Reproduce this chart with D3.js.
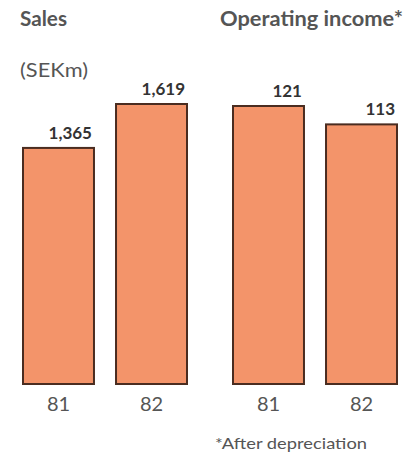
<!DOCTYPE html>
<html>
<head>
<meta charset="utf-8">
<script src="https://cdn.jsdelivr.net/npm/d3@7"></script>
<style>
  html, body { margin: 0; padding: 0; background: #ffffff; }
  svg { display: block; }
  text { font-family: Lato, "Open Sans", sans-serif; }
</style>
</head>
<body>
<svg id="chart" width="417" height="454"></svg>
<script>
// Years shown under each pair of bars
const years = ["81", "82"];
// Sales, SEKm
const sales = [1365, 1619];
// Operating income after depreciation, SEKm
const operatingIncome = [121, 113];

const svg = d3.select("#chart");
const baseY = 384;
const barFill = "#f3946a";
const barStroke = "#4a2c20";
const textGrey = "#555555";
const valueColor = "#333333";

function panel(values, xRange, yDomainMax, yTop) {
  const x = d3.scaleBand().domain(years).range(xRange).paddingInner(0.237).paddingOuter(0);
  const y = d3.scaleLinear().domain([0, yDomainMax]).range([baseY, yTop]);
  const g = svg.append("g");
  const data = years.map((yr, i) => ({ year: yr, value: values[i] }));

  g.selectAll("rect").data(data).join("rect")
    .attr("x", d => x(d.year))
    .attr("y", d => y(d.value))
    .attr("width", x.bandwidth())
    .attr("height", d => baseY - y(d.value))
    .attr("fill", barFill)
    .attr("stroke", barStroke)
    .attr("stroke-width", 2);

  g.selectAll("text.value").data(data).join("text")
    .attr("class", "value")
    .attr("x", d => x(d.year) + x.bandwidth() - 2)
    .attr("y", d => y(d.value) - 9)
    .attr("text-anchor", "end")
    .attr("font-size", 17)
    .attr("font-weight", "bold")
    .attr("fill", valueColor)
    .text(d => d3.format(",")(d.value));

  const axis = d3.axisBottom(x).tickSize(0).tickPadding(0);
  const ax = g.append("g").attr("transform", `translate(0,${baseY})`).call(axis);
  ax.select(".domain").remove();
  ax.selectAll("text")
    .attr("dy", null)
    .attr("y", 27)
    .attr("font-size", 20)
    .attr("font-family", "Lato, 'Open Sans', sans-serif")
    .attr("fill", textGrey);
}

panel(sales, [23, 187], 1619, 104);
panel(operatingIncome, [233, 397], 121, 106);

// Titles and notes
svg.append("text").attr("x", 20).attr("y", 26)
  .attr("font-size", 20).attr("font-weight", "bold").attr("fill", textGrey)
  .attr("textLength", 47).attr("lengthAdjust", "spacingAndGlyphs")
  .text("Sales");
svg.append("text").attr("x", 220).attr("y", 26)
  .attr("font-size", 20).attr("font-weight", "bold").attr("fill", textGrey)
  .attr("textLength", 183).attr("lengthAdjust", "spacingAndGlyphs")
  .text("Operating income*");
svg.append("text").attr("x", 20).attr("y", 77)
  .attr("font-size", 20).attr("fill", textGrey)
  .attr("textLength", 68).attr("lengthAdjust", "spacingAndGlyphs")
  .text("(SEKm)");
svg.append("text").attr("x", 215).attr("y", 449)
  .attr("font-size", 16).attr("fill", textGrey)
  .attr("textLength", 152).attr("lengthAdjust", "spacingAndGlyphs")
  .text("*After depreciation");
</script>
</body>
</html>
